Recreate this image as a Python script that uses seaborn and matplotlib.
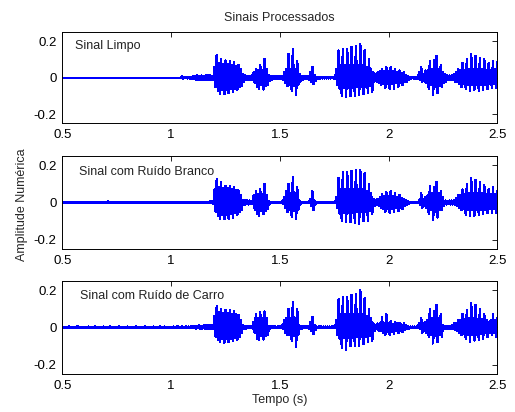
import numpy as np
import pandas as pd
import matplotlib
matplotlib.use("Agg")
import matplotlib.pyplot as plt
import seaborn as sns

# ---------------- data (peak envelope, 0.01 s grid from 0.50 s) -------------
t_start = 0.5
t_step = 0.01

titles = ["Sinal Limpo", "Sinal com Ruído Branco", "Sinal com Ruído de Carro"]
x_ticks = [0.5, 1.0, 1.5, 2.0, 2.5]
x_tick_labels = ["0.5", "1", "1.5", "2", "2.5"]
y_ticks = [-0.2, 0.0, 0.2]
y_tick_labels = ["-0.2", "0", "0.2"]

clean_hi = [
    0, 0, 0, 0, 0, 0, 0, 0, 0, 0,
    0, 0, 0, 0, 0, 0, 0, 0, 0, 0,
    0, 0, 0, 0, 0, 0, 0, 0, 0, 0,
    0, 0, 0, 0, 0, 0, 0, 0, 0, 0,
    0, 0, 0, 0, 0, 0, 0, 0, 0, 0,
    0, 0, 0, 0, 0, 0.008, 0.002, 0.003, 0.006, 0.006,
    0.01, 0.008, 0.012, 0.01, 0.012, 0.01, 0.012, 0.014, 0.012, 0.01,
    0.06, 0.125, 0.08, 0.1, 0.075, 0.095, 0.075, 0.09, 0.07, 0.085,
    0.065, 0.07, 0.05, 0.02, 0.012, 0.01, 0.01, 0.012, 0.03, 0.05,
    0.04, 0.07, 0.045, 0.105, 0.05, 0.015, 0.01, 0.008, 0.008, 0.008,
    0.008, 0.01, 0.03, 0.05, 0.13, 0.05, 0.155, 0.05, 0.09, 0.02,
    0.01, 0.008, 0.008, 0.01, 0.03, 0.06, 0.015, 0.004, 0.004, 0.003,
    0.003, 0.003, 0.003, 0.003, 0.003, 0.004, 0.05, 0.15, 0.07, 0.16,
    0.07, 0.155, 0.07, 0.17, 0.07, 0.175, 0.07, 0.185, 0.07, 0.15,
    0.06, 0.1, 0.05, 0.03, 0.02, 0.03, 0.035, 0.05, 0.035, 0.058,
    0.035, 0.058, 0.035, 0.05, 0.03, 0.04, 0.025, 0.03, 0.015, 0.01,
    0.004, 0.004, 0.004, 0.004, 0.03, 0.06, 0.02, 0.04, 0.04, 0.09,
    0.05, 0.095, 0.12, 0.05, 0.07, 0.03, 0.02, 0.012, 0.012, 0.012,
    0.02, 0.03, 0.045, 0.04, 0.08, 0.045, 0.1, 0.05, 0.13, 0.05,
    0.12, 0.05, 0.11, 0.05, 0.1, 0.045, 0.08, 0.045, 0.09, 0.05,
    0.085,
]
clean_lo = [
    0, 0, 0, 0, 0, 0, 0, 0, 0, 0,
    0, 0, 0, 0, 0, 0, 0, 0, 0, 0,
    0, 0, 0, 0, 0, 0, 0, 0, 0, 0,
    0, 0, 0, 0, 0, 0, 0, 0, 0, 0,
    0, 0, 0, 0, 0, 0, 0, 0, 0, 0,
    0, 0, 0, 0, 0, -0.004, -0.002, -0.003, -0.004, -0.006,
    -0.008, -0.01, -0.01, -0.012, -0.01, -0.012, -0.01, -0.012, -0.01, -0.01,
    -0.05, -0.07, -0.09, -0.065, -0.09, -0.065, -0.085, -0.06, -0.075, -0.06,
    -0.065, -0.05, -0.045, -0.02, -0.012, -0.01, -0.01, -0.012, -0.03, -0.05,
    -0.06, -0.04, -0.065, -0.045, -0.04, -0.015, -0.01, -0.008, -0.008, -0.008,
    -0.008, -0.01, -0.03, -0.045, -0.04, -0.07, -0.045, -0.095, -0.04, -0.02,
    -0.01, -0.008, -0.008, -0.01, -0.02, -0.035, -0.015, -0.004, -0.004, -0.003,
    -0.003, -0.003, -0.003, -0.003, -0.003, -0.004, -0.04, -0.06, -0.1, -0.055,
    -0.105, -0.055, -0.1, -0.055, -0.1, -0.05, -0.095, -0.05, -0.09, -0.05,
    -0.085, -0.045, -0.075, -0.02, -0.02, -0.03, -0.04, -0.035, -0.055, -0.035,
    -0.06, -0.035, -0.06, -0.03, -0.05, -0.03, -0.04, -0.02, -0.02, -0.01,
    -0.004, -0.004, -0.004, -0.004, -0.01, -0.02, -0.02, -0.03, -0.06, -0.04,
    -0.095, -0.05, -0.085, -0.045, -0.05, -0.03, -0.02, -0.012, -0.012, -0.012,
    -0.02, -0.025, -0.035, -0.05, -0.035, -0.06, -0.04, -0.07, -0.04, -0.065,
    -0.04, -0.07, -0.04, -0.065, -0.04, -0.06, -0.035, -0.055, -0.035, -0.055,
    -0.05,
]

white_hi = [
    0.003, 0.002, 0.003, 0.003, 0.002, 0.003, 0.003, 0.002, 0.003, 0.003,
    0.002, 0.003, 0.003, 0.002, 0.003, 0.003, 0.002, 0.003, 0.003, 0.002,
    0.003, 0.005, 0.003, 0.002, 0.003, 0.003, 0.002, 0.003, 0.003, 0.002,
    0.003, 0.002, 0.003, 0.003, 0.002, 0.003, 0.003, 0.002, 0.003, 0.003,
    0.002, 0.003, 0.003, 0.002, 0.003, 0.003, 0.002, 0.003, 0.003, 0.002,
    0.003, 0.003, 0.002, 0.003, 0.003, 0.003, 0.002, 0.003, 0.003, 0.003,
    0.003, 0.003, 0.004, 0.003, 0.003, 0.004, 0.003, 0.003, 0.005, 0.008,
    0.07, 0.125, 0.08, 0.11, 0.075, 0.09, 0.075, 0.085, 0.07, 0.08,
    0.065, 0.065, 0.04, 0.015, 0.01, 0.012, 0.01, 0.008, 0.04, 0.06,
    0.045, 0.07, 0.045, 0.1, 0.04, 0.008, 0.004, 0.004, 0.004, 0.004,
    0.004, 0.006, 0.03, 0.06, 0.1, 0.05, 0.137, 0.05, 0.08, 0.01,
    0.004, 0.003, 0.003, 0.003, 0.02, 0.06, 0.01, 0.003, 0.003, 0.003,
    0.003, 0.003, 0.003, 0.003, 0.003, 0.003, 0.03, 0.13, 0.07, 0.165,
    0.07, 0.16, 0.07, 0.17, 0.07, 0.175, 0.07, 0.175, 0.07, 0.155,
    0.06, 0.1, 0.05, 0.02, 0.01, 0.02, 0.03, 0.045, 0.035, 0.055,
    0.035, 0.06, 0.035, 0.05, 0.03, 0.04, 0.025, 0.02, 0.01, 0.005,
    0.003, 0.003, 0.003, 0.003, 0.01, 0.05, 0.02, 0.03, 0.04, 0.085,
    0.05, 0.08, 0.11, 0.05, 0.06, 0.03, 0.01, 0.008, 0.01, 0.01,
    0.015, 0.025, 0.04, 0.04, 0.07, 0.045, 0.1, 0.05, 0.13, 0.05,
    0.12, 0.05, 0.11, 0.05, 0.095, 0.045, 0.07, 0.045, 0.08, 0.045,
    0.06,
]
white_lo = [
    -0.003, -0.003, -0.002, -0.003, -0.003, -0.002, -0.003, -0.003, -0.002, -0.003,
    -0.003, -0.002, -0.003, -0.003, -0.002, -0.003, -0.003, -0.002, -0.003, -0.003,
    -0.002, -0.004, -0.003, -0.003, -0.002, -0.003, -0.003, -0.002, -0.003, -0.003,
    -0.003, -0.003, -0.002, -0.003, -0.003, -0.002, -0.003, -0.003, -0.002, -0.003,
    -0.003, -0.002, -0.003, -0.003, -0.002, -0.003, -0.003, -0.002, -0.003, -0.003,
    -0.003, -0.003, -0.003, -0.002, -0.003, -0.003, -0.003, -0.002, -0.003, -0.003,
    -0.003, -0.003, -0.003, -0.004, -0.003, -0.003, -0.003, -0.003, -0.004, -0.006,
    -0.05, -0.07, -0.09, -0.065, -0.09, -0.065, -0.085, -0.06, -0.08, -0.055,
    -0.065, -0.05, -0.04, -0.015, -0.01, -0.01, -0.008, -0.008, -0.04, -0.06,
    -0.07, -0.045, -0.06, -0.045, -0.035, -0.008, -0.004, -0.004, -0.004, -0.004,
    -0.004, -0.006, -0.03, -0.05, -0.04, -0.075, -0.045, -0.088, -0.04, -0.01,
    -0.004, -0.003, -0.003, -0.003, -0.02, -0.04, -0.01, -0.003, -0.003, -0.003,
    -0.003, -0.003, -0.003, -0.003, -0.003, -0.003, -0.03, -0.06, -0.1, -0.055,
    -0.105, -0.055, -0.105, -0.055, -0.11, -0.05, -0.115, -0.05, -0.1, -0.05,
    -0.1, -0.045, -0.06, -0.02, -0.01, -0.02, -0.03, -0.035, -0.05, -0.035,
    -0.055, -0.035, -0.05, -0.03, -0.045, -0.03, -0.035, -0.02, -0.01, -0.005,
    -0.003, -0.003, -0.003, -0.003, -0.01, -0.03, -0.02, -0.03, -0.06, -0.04,
    -0.095, -0.05, -0.08, -0.04, -0.04, -0.02, -0.01, -0.008, -0.01, -0.01,
    -0.015, -0.02, -0.03, -0.04, -0.035, -0.065, -0.04, -0.07, -0.04, -0.07,
    -0.04, -0.065, -0.04, -0.06, -0.04, -0.055, -0.035, -0.055, -0.035, -0.055,
    -0.05,
]

car_hi = [
    0.002, 0.003, 0.002, 0.004, 0.002, 0.003, 0.002, 0.005, 0.002, 0.003,
    0.003, 0.002, 0.004, 0.002, 0.003, 0.006, 0.002, 0.003, 0.002, 0.004,
    0.002, 0.003, 0.005, 0.002, 0.003, 0.002, 0.004, 0.002, 0.003, 0.002,
    0.004, 0.002, 0.003, 0.002, 0.006, 0.002, 0.003, 0.002, 0.004, 0.002,
    0.003, 0.002, 0.004, 0.003, 0.002, 0.005, 0.003, 0.004, 0.002, 0.003,
    0.003, 0.004, 0.002, 0.006, 0.003, 0.004, 0.003, 0.006, 0.004, 0.005,
    0.006, 0.008, 0.005, 0.01, 0.008, 0.01, 0.012, 0.01, 0.012, 0.01,
    0.06, 0.112, 0.08, 0.1, 0.075, 0.095, 0.075, 0.09, 0.07, 0.085,
    0.07, 0.065, 0.04, 0.01, 0.006, 0.005, 0.005, 0.006, 0.03, 0.07,
    0.05, 0.08, 0.05, 0.085, 0.05, 0.006, 0.005, 0.005, 0.005, 0.005,
    0.005, 0.01, 0.04, 0.05, 0.1, 0.05, 0.135, 0.05, 0.1, 0.01,
    0.006, 0.005, 0.005, 0.008, 0.03, 0.056, 0.012, 0.004, 0.004, 0.004,
    0.004, 0.004, 0.004, 0.004, 0.004, 0.004, 0.04, 0.15, 0.07, 0.16,
    0.07, 0.16, 0.07, 0.175, 0.07, 0.18, 0.07, 0.198, 0.07, 0.155,
    0.06, 0.1, 0.05, 0.02, 0.01, 0.02, 0.025, 0.055, 0.025, 0.07,
    0.025, 0.035, 0.02, 0.03, 0.02, 0.025, 0.015, 0.02, 0.01, 0.006,
    0.004, 0.004, 0.004, 0.004, 0.02, 0.05, 0.02, 0.03, 0.04, 0.1,
    0.05, 0.085, 0.12, 0.05, 0.07, 0.01, 0.006, 0.006, 0.008, 0.01,
    0.02, 0.025, 0.04, 0.04, 0.07, 0.045, 0.09, 0.05, 0.13, 0.05,
    0.12, 0.045, 0.1, 0.045, 0.07, 0.04, 0.03, 0.04, 0.07, 0.04,
    0.05,
]
car_lo = [
    -0.002, -0.003, -0.002, -0.003, -0.004, -0.002, -0.003, -0.002, -0.004, -0.002,
    -0.003, -0.002, -0.005, -0.002, -0.003, -0.002, -0.004, -0.002, -0.003, -0.002,
    -0.003, -0.002, -0.004, -0.002, -0.003, -0.005, -0.002, -0.003, -0.002, -0.004,
    -0.002, -0.003, -0.002, -0.004, -0.002, -0.003, -0.002, -0.005, -0.002, -0.003,
    -0.002, -0.004, -0.003, -0.002, -0.004, -0.003, -0.002, -0.004, -0.003, -0.002,
    -0.003, -0.003, -0.004, -0.002, -0.005, -0.003, -0.004, -0.003, -0.005, -0.004,
    -0.005, -0.006, -0.005, -0.008, -0.006, -0.008, -0.01, -0.008, -0.01, -0.008,
    -0.05, -0.065, -0.08, -0.06, -0.081, -0.06, -0.08, -0.06, -0.075, -0.055,
    -0.065, -0.05, -0.03, -0.01, -0.006, -0.005, -0.005, -0.006, -0.03, -0.06,
    -0.067, -0.045, -0.065, -0.045, -0.04, -0.006, -0.005, -0.005, -0.005, -0.005,
    -0.005, -0.01, -0.03, -0.04, -0.04, -0.07, -0.045, -0.107, -0.04, -0.01,
    -0.006, -0.005, -0.005, -0.008, -0.02, -0.035, -0.012, -0.004, -0.004, -0.004,
    -0.004, -0.004, -0.004, -0.004, -0.004, -0.004, -0.04, -0.06, -0.11, -0.055,
    -0.123, -0.055, -0.1, -0.055, -0.1, -0.05, -0.1, -0.05, -0.09, -0.05,
    -0.08, -0.045, -0.07, -0.02, -0.01, -0.02, -0.02, -0.03, -0.04, -0.025,
    -0.04, -0.025, -0.035, -0.02, -0.03, -0.02, -0.025, -0.015, -0.01, -0.006,
    -0.004, -0.004, -0.004, -0.004, -0.01, -0.03, -0.02, -0.03, -0.05, -0.04,
    -0.086, -0.045, -0.08, -0.04, -0.05, -0.01, -0.006, -0.006, -0.008, -0.01,
    -0.015, -0.02, -0.03, -0.04, -0.035, -0.06, -0.04, -0.077, -0.04, -0.07,
    -0.04, -0.065, -0.035, -0.06, -0.03, -0.05, -0.03, -0.04, -0.03, -0.05,
    -0.04,
]

series = [(clean_hi, clean_lo), (white_hi, white_lo), (car_hi, car_lo)]

# ---------------- styling ----------------
sns.set_theme(style="white")
plt.rcParams['font.family'] = ['Liberation Sans', 'DejaVu Sans']
plt.rcParams['font.size'] = 9

W, H = 515, 412
fig = plt.figure(figsize=(W / 100, H / 100), dpi=100)

# axes boxes in pixel coords (left, top, right, bottom)
boxes = [(62.3, 32.3, 497.3, 123.3), (62.3, 155.7, 497.3, 249.3), (62.3, 280.7, 497.3, 374.0)]
label_pos = [(0.029, 0.85), (0.038, 0.83), (0.040, 0.836)]

for i, ((hi, lo), (l, t, r, b)) in enumerate(zip(series, boxes)):
    ax = fig.add_axes([l / W, 1 - b / H, (r - l) / W, (b - t) / H])
    hi = np.asarray(hi, dtype=float)
    lo = np.asarray(lo, dtype=float)
    tt = t_start + t_step * np.arange(len(hi))
    x = np.empty(2 * len(hi))
    y = np.empty(2 * len(hi))
    x[0::2] = tt
    x[1::2] = tt + t_step / 2
    y[0::2] = hi
    y[1::2] = lo
    df = pd.DataFrame({"t": x, "amp": y})
    sns.lineplot(data=df, x="t", y="amp", ax=ax, color="#0000ff", linewidth=1.0,
                 estimator=None, sort=False, antialiased=False)
    ax.set_xlim(0.5, 2.5)
    ax.set_ylim(-0.25, 0.25)
    ax.set_xticks(x_ticks)
    ax.set_xticklabels(x_tick_labels)
    ax.set_yticks(y_ticks)
    ax.set_yticklabels(y_tick_labels)
    ax.set_xlabel("")
    ax.set_ylabel("")
    ax.tick_params(direction="in", length=3.5, width=0.6, top=True, right=True,
                   labelsize=9.5, colors="black", pad=4)
    for s in ax.spines.values():
        s.set_color("black")
        s.set_linewidth(0.7)
    ax.text(label_pos[i][0], label_pos[i][1], titles[i], transform=ax.transAxes,
            ha="left", va="center", fontsize=9, color="#222222")
    if i == 0:
        ax.set_title("Sinais Processados", fontsize=9, pad=8)
    if i == 2:
        ax.set_xlabel("Tempo (s)", fontsize=9, labelpad=2)

fig.text(22 / W, 1 - 205 / H, "Amplitude Numérica", rotation=90, ha="center",
         va="center", fontsize=9)

fig.savefig("out.png", dpi=100, facecolor="white")
